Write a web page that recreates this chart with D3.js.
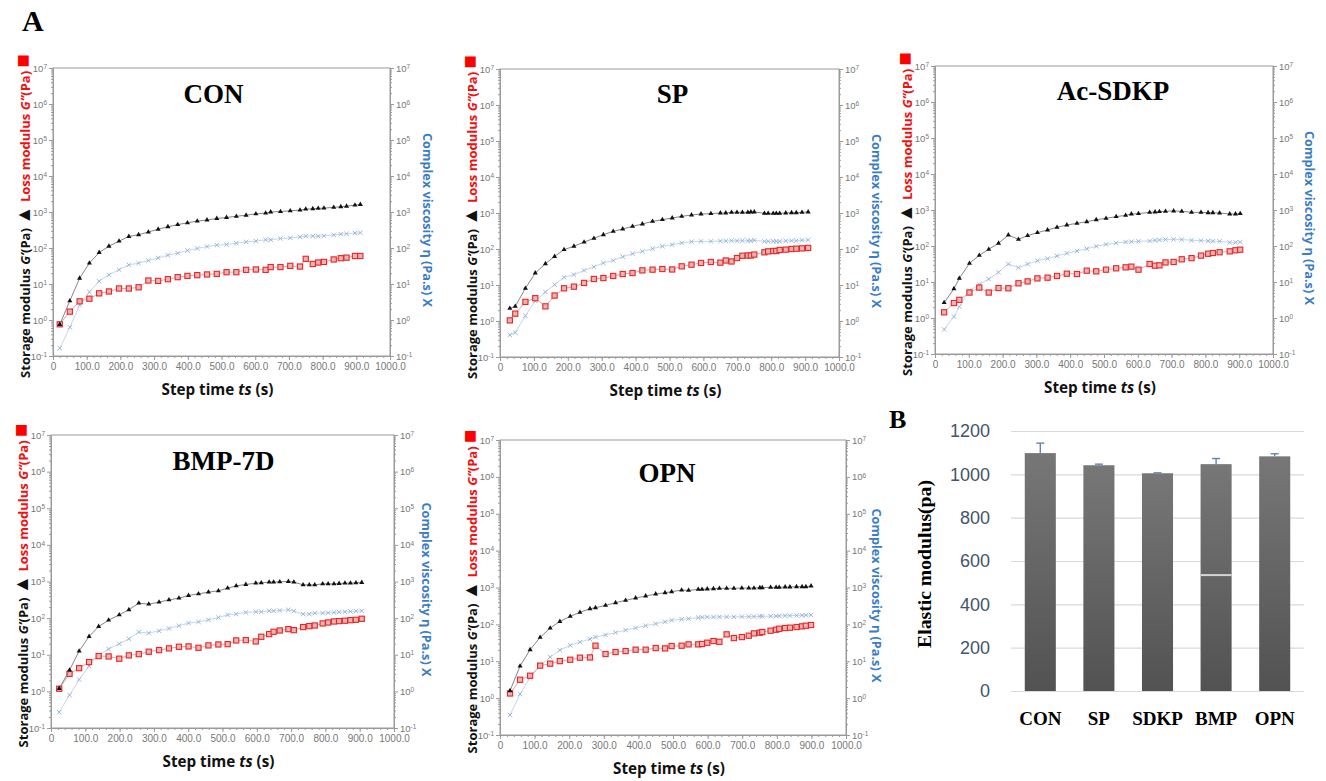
<!DOCTYPE html>
<meta charset="utf-8" />
<style>
  body { margin: 0; background: #fff; }
  svg text { font-family: "Liberation Sans", Arial, sans-serif; }
  .ttl { font-family: "Liberation Serif", "Times New Roman", serif; font-weight: bold; }
  .lab { font-family: "Open Sans", "Noto Sans", sans-serif; font-weight: 700; }
</style>
<svg width="1326" height="781"></svg>
<script src="https://cdn.jsdelivr.net/npm/d3@7"></script>
<script>
  // ---- panel A data ----
  var panelNames = ["CON", "SP", "Ac-SDKP", "BMP-7D", "OPN"];

  var tCON = [20,50,79,108,137,166,196,225,254,283,312,341,370,399,428,457,486,515,544,573,602,631,646,675,704,733,750,771,787,804,833,854,871,896,912];
  var gpCON = [0.75,3.4,14.5,38,75,112,155,209,234,277,333,389,447,500,560,600,660,705,760,815,890,935,1000,1030,1080,1130,1200,1230,1260,1280,1350,1400,1450,1550,1620];
  var gppCON = [0.76,1.71,3.3,3.9,5.5,6.2,7.5,7.5,8.1,12.5,12.2,13.6,15.5,16.8,17.6,18.4,19.1,21.3,21.3,24.7,25.3,24.7,29.5,29.5,31.9,30.5,50,36,39.5,41,48,52,54,60,60];
  var etaCON = [0.164,0.63,2.6,6.0,12,18,25,34,38,45,53,63,72,85,97,110,120,125,136,148,155,169,169,184,191,204,213,213,213,218,232,243,248,260,266];

  var tSP = [29,45,75,104,134,161,189,218,248,277,305,334,362,391,420,450,479,508,536,565,593,622,650,666,683,699,715,731,740,750,780,791,806,815,825,843,860,874,891,909];
  var gpSP = [2.25,2.55,8.1,21.5,39,62,96,119,156,198,250,309,360,426,494,587,653,726,808,880,938,960,1000,1000,1045,1045,1045,1045,1070,1070,980,980,980,980,980,1000,1020,1020,1045,1070];
  var gppSP = [1.04,1.6,3.4,4.3,2.55,5.1,8.1,9.0,11.4,14.7,15.6,17.8,20.2,21.5,25.5,26.7,27.8,27,33,36.7,41,43.6,41.7,48,45,56,65,66,66,70,81,86,88,88,94,96,100,102,104,107];
  var etaSP = [0.41,0.48,1.4,3.6,6.4,10.2,16.3,19.4,25.5,32,41,48,61,74,86,102,119,132,147,160,163,163,167,167,170,170,170,170,170,174,163,163,163,163,163,167,170,170,174,178];

  var tSDKP = [27,56,72,102,131,159,188,217,247,274,303,333,361,390,420,449,477,506,536,564,581,602,635,651,664,682,706,730,759,787,808,822,842,872,889,903];
  var gpSDKP = [2.67,6.5,12.6,33,55,81,119,202,153,194,235,278,331,383,426,474,538,587,653,711,774,793,862,882,900,920,940,920,862,862,843,843,825,774,774,793];
  var gppSDKP = [1.44,2.6,3.2,5.1,7.0,5.1,6.8,6.7,9.2,10.4,12.6,13.2,14.7,17,16.7,20.6,19.8,22,24,25.5,26.7,22,31.6,28.5,29,35,36,42.7,46,54,61,64,67,71,76,79];
  var etaSDKP = [0.48,1.09,2.07,5.7,8.6,12.1,18.6,31.6,25,31.6,39,44.5,53,62.5,72.6,84,98,111,121,129,132,135,138,144,147,151,153,151,144,141,138,135,135,126,126,129];

  var tBMP = [24,54,82,111,139,168,199,227,256,285,315,344,373,401,430,459,488,515,540,568,597,613,636,649,667,692,708,735,753,769,792,808,825,840,857,873,889,906];
  var gpBMP = [1.2,3.8,12.6,31.6,59,88,123,169,257,241,273,316,351,415,461,512,556,658,762,828,901,920,960,960,981,1000,960,811,811,811,863,863,863,883,901,901,920,940];
  var gppBMP = [1.18,3.0,4.3,6.3,9.2,9.0,7.8,9.6,10.4,12.1,13.4,14.9,16.5,16.9,15.5,18,19.1,19.5,24.6,25.1,23.1,31,36.6,42.4,46,50,47,57,60.5,63,71.6,76,81,83,85,88,90,96];
  var etaBMP = [0.27,0.79,2.1,4.9,9.8,14.3,20,27.3,41.5,39,45,52,61.8,73,79,90,104,123,129,143,149,149,158,158,162,169,155,129,129,137,137,140,143,146,149,152,155,158];

  var tOPN = [29,58,87,116,145,173,203,231,260,276,305,334,363,392,421,450,477,496,525,545,573,584,599,617,634,655,676,699,719,734,751,758,782,798,807,824,838,857,873,884,899];
  var gpOPN = [1.59,7.4,20.6,44.4,79.5,120,165,212,266,283,327,387,448,518,587,665,723,769,853,834,890,890,910,927,949,949,949,966,966,966,989,989,1009,1009,1009,1030,1030,1052,1052,1052,1097];
  var gppOPN = [1.34,3.15,4.05,7.6,8.6,10.1,11,12.5,12.7,26.4,15.7,17.8,18.9,20.6,20.6,22.8,22.3,25.8,26.4,28.7,28.7,29.4,31.8,35.3,33.7,53.6,42.6,45.3,49.3,57,59.4,62,67.3,71.6,76,79.5,81.3,84.7,88.3,92,96];
  var etaOPN = [0.35,1.29,3.6,7.5,13,20,27,33,40,45,52,60,70,80,92,104,118,130,137,143,152,155,158,158,160,160,160,162,162,163,165,165,167,168,170,172,173,175,176,177,179];

  var xTicks = [0,100,200,300,400,500,600,700,800,900,1000];
  var yDecades = [-1,0,1,2,3,4,5,6,7];

  // ---- panel B data ----
  var barCats = ["CON", "SP", "SDKP", "BMP", "OPN"];
  var barVals = [1098, 1042, 1005, 1047, 1083];
  var barErr = [46, 5, 2, 26, 12];
  var barTicks = [0,200,400,600,800,1000,1200];
  var bmpSeam = 535;

  var series = {
    "CON": [tCON, gpCON, gppCON, etaCON],
    "SP": [tSP, gpSP, gppSP, etaSP],
    "Ac-SDKP": [tSDKP, gpSDKP, gppSDKP, etaSDKP],
    "BMP-7D": [tBMP, gpBMP, gppBMP, etaBMP],
    "OPN": [tOPN, gpOPN, gppOPN, etaOPN]
  };

  // plot boxes (layout only)
  var layout = {
    "CON": { x: 53, y: 68, w: 337, h: 288, ty: 35, tx: -8, rl: 33 },
    "SP": { x: 500, y: 69, w: 339, h: 288, ty: 34, tx: 3, rl: 33 },
    "Ac-SDKP": { x: 935, y: 66, w: 338, h: 288, ty: 34, tx: 9, rl: 32 },
    "BMP-7D": { x: 51, y: 435, w: 343, h: 293, ty: 35, tx: 1, rl: 28 },
    "OPN": { x: 500, y: 440, w: 346, h: 295, ty: 42, tx: -6, rl: 26 }
  };

  var svg = d3.select("svg");
  var axisGray = "#9a9a9a";

  function fitText(t, target) {
    var fs = parseFloat(t.attr("font-size"));
    var len = t.node().getComputedTextLength();
    t.attr("font-size", (fs * target / len).toFixed(2));
  }

  function styleAxis(g) {
    g.attr("font-family", "Liberation Sans, Arial, sans-serif").attr("font-size", 9.5);
    g.selectAll("path, line").attr("stroke", axisGray);
    g.selectAll("text").attr("fill", "#777");
  }

  function supLabels(g) {
    g.selectAll(".tick text").each(function (d) {
      var e = Math.round(Math.log10(d));
      var t = d3.select(this).text("10");
      t.append("tspan").attr("dy", "-0.45em").attr("font-size", "0.68em").text(e);
    });
  }

  function drawPanel(name) {
    var p = layout[name];
    var s = series[name];
    var g = svg.append("g");
    var x = d3.scaleLinear().domain([0, 1000]).range([p.x, p.x + p.w]);
    var y = d3.scaleLog().domain([0.1, 1e7]).range([p.y + p.h, p.y]);

    var majors = yDecades.map(function (e) { return Math.pow(10, e); });
    majors[0] = 0.1;
    var minors = [];
    majors.slice(0, -1).forEach(function (d) {
      for (var k = 2; k < 10; k++) minors.push(d * k);
    });
    var xMinor = d3.range(0, 1001, 20);

    // frame
    g.append("rect")
      .attr("x", p.x).attr("y", p.y).attr("width", p.w).attr("height", p.h)
      .attr("fill", "none").attr("stroke", axisGray);

    // left axis
    var lm = g.append("g").attr("transform", "translate(" + p.x + ",0)")
      .call(d3.axisLeft(y).tickValues(minors).tickSize(2).tickFormat(""));
    lm.select(".domain").remove();
    styleAxis(lm);
    var la = g.append("g").attr("transform", "translate(" + p.x + ",0)")
      .call(d3.axisLeft(y).tickValues(majors).tickSize(4).tickPadding(2).tickFormat(function () { return ""; }));
    styleAxis(la);
    supLabels(la);

    // right axis
    var rm = g.append("g").attr("transform", "translate(" + (p.x + p.w) + ",0)")
      .call(d3.axisRight(y).tickValues(minors).tickSize(2).tickFormat(""));
    rm.select(".domain").remove();
    styleAxis(rm);
    var ra = g.append("g").attr("transform", "translate(" + (p.x + p.w) + ",0)")
      .call(d3.axisRight(y).tickValues(majors).tickSize(4).tickPadding(2).tickFormat(function () { return ""; }));
    styleAxis(ra);
    supLabels(ra);

    // bottom axis
    var bm = g.append("g").attr("transform", "translate(0," + (p.y + p.h) + ")")
      .call(d3.axisBottom(x).tickValues(xMinor).tickSize(2).tickFormat(""));
    bm.select(".domain").remove();
    styleAxis(bm);
    var ba = g.append("g").attr("transform", "translate(0," + (p.y + p.h) + ")")
      .call(d3.axisBottom(x).tickValues(xTicks).tickSize(4).tickPadding(3)
        .tickFormat(function (d) { return d === 0 ? "0" : d.toFixed(1); }));
    styleAxis(ba);
    ba.attr("font-size", 10);

    var line = d3.line()
      .x(function (d) { return x(d[0]); })
      .y(function (d) { return y(d[1]); });
    function pts(v) { return s[0].map(function (t, i) { return [t, v[i]]; }); }

    var eta = pts(s[3]), gpp = pts(s[2]), gp = pts(s[1]);

    // complex viscosity (light blue x)
    g.append("path").datum(eta).attr("d", line)
      .attr("fill", "none").attr("stroke", "#c4d6ea").attr("stroke-width", 1);
    g.selectAll(null).data(eta).enter().append("path")
      .attr("transform", function (d) { return "translate(" + x(d[0]) + "," + y(d[1]) + ")"; })
      .attr("d", "M-2.2,-2.2L2.2,2.2M-2.2,2.2L2.2,-2.2")
      .attr("stroke", "#8eb0d6").attr("stroke-width", 0.9).attr("fill", "none");

    // loss modulus (red squares)
    g.append("path").datum(gpp).attr("d", line)
      .attr("fill", "none").attr("stroke", "#eea3a3").attr("stroke-width", 1);
    g.selectAll(null).data(gpp).enter().append("rect")
      .attr("x", function (d) { return x(d[0]) - 2.6; })
      .attr("y", function (d) { return y(d[1]) - 2.6; })
      .attr("width", 5.2).attr("height", 5.2)
      .attr("fill", "#f4b0b0").attr("stroke", "#de2a2a").attr("stroke-width", 1.1);

    // storage modulus (black triangles)
    g.append("path").datum(gp).attr("d", line)
      .attr("fill", "none").attr("stroke", "#777").attr("stroke-width", 0.9);
    g.selectAll(null).data(gp).enter().append("path")
      .attr("transform", function (d) { return "translate(" + x(d[0]) + "," + y(d[1]) + ")"; })
      .attr("d", d3.symbol().type(d3.symbolTriangle).size(11))
      .attr("fill", "#111");

    // title
    g.append("text").attr("class", "ttl")
      .attr("x", p.x + p.w / 2 + p.tx).attr("y", p.y + p.ty)
      .attr("text-anchor", "middle").attr("font-size", 27).text(name);

    // x label
    var xl = g.append("text").attr("class", "lab")
      .attr("x", p.x + p.w / 2 - 4).attr("y", p.y + p.h + 39)
      .attr("text-anchor", "middle").attr("font-size", 15).attr("fill", "#111");
    xl.append("tspan").text("Step time ");
    xl.append("tspan").attr("font-style", "italic").text("ts");
    xl.append("tspan").text(" (s)");
    fitText(xl, 112);

    // left label
    var yl = g.append("text").attr("class", "lab")
      .attr("transform", "translate(" + (p.x - 23) + "," + (p.y + p.h / 2 + 4) + ") rotate(-90)")
      .attr("text-anchor", "middle").attr("font-size", 13);
    yl.append("tspan").attr("fill", "#111").text("Storage modulus ");
    yl.append("tspan").attr("fill", "#111").attr("font-style", "italic").text("G’");
    yl.append("tspan").attr("fill", "#111").text("(Pa) ");
    yl.append("tspan").attr("fill", "#111").attr("font-size", "1.5em").text("▲");
    yl.append("tspan").attr("fill", "#f01010").text(" Loss modulus ");
    yl.append("tspan").attr("fill", "#f01010").attr("font-style", "italic").text("G’’");
    yl.append("tspan").attr("fill", "#f01010").text("(Pa) ");
    yl.append("tspan").attr("fill", "#ff0000").attr("font-size", "1.7em").text("■");
    fitText(yl, 324);

    // right label
    var rl = g.append("text").attr("class", "lab")
      .attr("transform", "translate(" + (p.x + p.w + p.rl) + "," + (p.y + p.h / 2 + 8) + ") rotate(90)")
      .attr("text-anchor", "middle").attr("font-size", 13).attr("fill", "#3b7dc4")
      .text("Complex viscosity η (Pa.s) X");
    fitText(rl, 174);
  }

  panelNames.forEach(drawPanel);

  svg.append("text").attr("class", "ttl").attr("x", 22).attr("y", 31)
    .attr("font-size", 30).text("A");

  // ---- panel B ----
  var bx = d3.scaleBand().domain(barCats).range([1011, 1304])
    .paddingInner(0.47).paddingOuter(0.235);
  var by = d3.scaleLinear().domain([0, 1200]).range([691, 431]);

  var grad = svg.append("defs").append("linearGradient")
    .attr("id", "barGrad").attr("x1", 0).attr("y1", 0).attr("x2", 0).attr("y2", 1);
  grad.append("stop").attr("offset", "0%").attr("stop-color", "#777");
  grad.append("stop").attr("offset", "100%").attr("stop-color", "#525252");

  var gB = svg.append("g");
  var yAx = gB.append("g").attr("transform", "translate(1011,0)")
    .call(d3.axisLeft(by).tickValues(barTicks).tickSize(-(1304 - 1011)).tickPadding(21)
      .tickFormat(d3.format("d")));
  yAx.select(".domain").remove();
  yAx.selectAll("line").attr("stroke", "#d9d9d9").attr("stroke-width", 1.2);
  yAx.selectAll("text").attr("fill", "#44546a")
    .attr("font-family", "Open Sans, Noto Sans, sans-serif").attr("font-size", 18);

  gB.selectAll(".bar").data(barCats).enter().append("rect")
    .attr("x", function (d) { return bx(d); })
    .attr("y", function (d, i) { return by(barVals[i]); })
    .attr("width", bx.bandwidth())
    .attr("height", function (d, i) { return by(0) - by(barVals[i]); })
    .attr("fill", "url(#barGrad)");

  // seam visible in the BMP bar
  gB.append("line")
    .attr("x1", bx("BMP")).attr("x2", bx("BMP") + bx.bandwidth())
    .attr("y1", by(bmpSeam)).attr("y2", by(bmpSeam))
    .attr("stroke", "#d4d4d4").attr("stroke-width", 2);

  var eb = gB.selectAll(".err").data(barCats).enter().append("g");
  eb.append("line")
    .attr("x1", function (d) { return bx(d) + bx.bandwidth() / 2; })
    .attr("x2", function (d) { return bx(d) + bx.bandwidth() / 2; })
    .attr("y1", function (d, i) { return by(barVals[i]); })
    .attr("y2", function (d, i) { return by(barVals[i] + barErr[i]); })
    .attr("stroke", "#6582b5").attr("stroke-width", 1.4);
  eb.append("line")
    .attr("x1", function (d) { return bx(d) + bx.bandwidth() / 2 - 4; })
    .attr("x2", function (d) { return bx(d) + bx.bandwidth() / 2 + 4; })
    .attr("y1", function (d, i) { return by(barVals[i] + barErr[i]); })
    .attr("y2", function (d, i) { return by(barVals[i] + barErr[i]); })
    .attr("stroke", "#6582b5").attr("stroke-width", 1.4);

  gB.selectAll(".cat").data(barCats).enter().append("text").attr("class", "ttl")
    .attr("x", function (d) { return bx(d) + bx.bandwidth() / 2; })
    .attr("y", 725).attr("text-anchor", "middle").attr("font-size", 19)
    .text(function (d) { return d; });

  var bt = gB.append("text").attr("class", "ttl")
    .attr("transform", "translate(931,564) rotate(-90)")
    .attr("text-anchor", "middle").attr("font-size", 19).text("Elastic modulus(pa)");
  fitText(bt, 168);

  svg.append("text").attr("class", "ttl").attr("x", 889).attr("y", 428)
    .attr("font-size", 26).text("B");
</script>
